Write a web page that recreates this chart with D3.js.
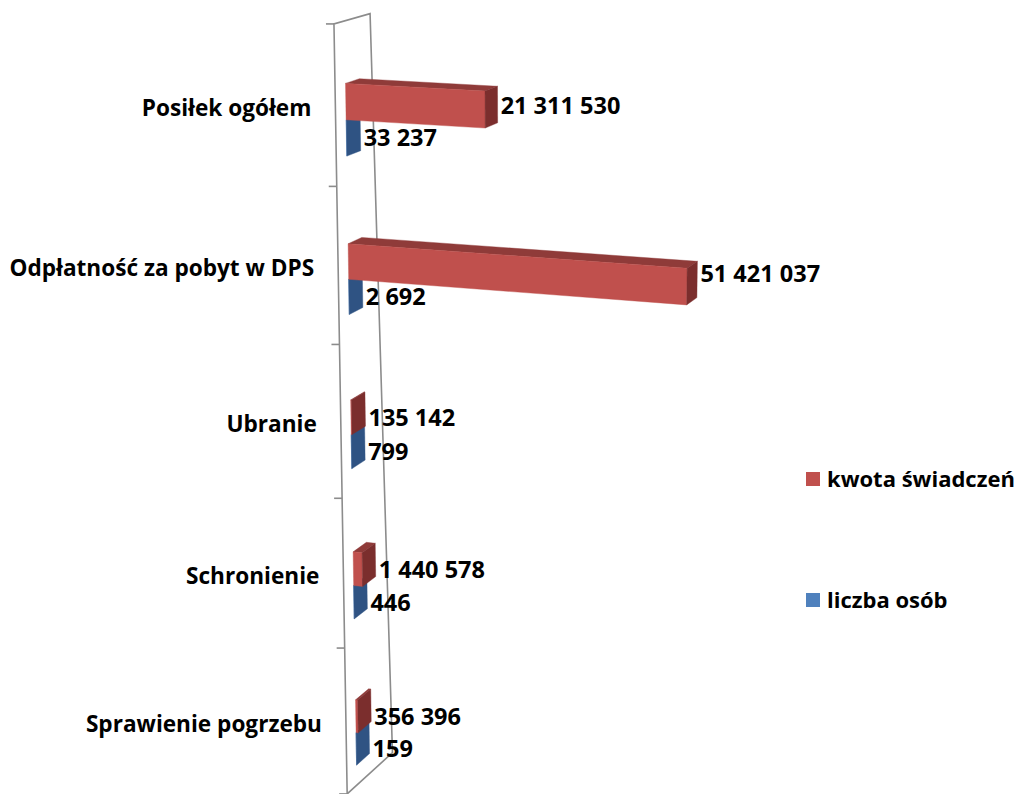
<!DOCTYPE html>
<html><head><meta charset="utf-8">
<script src="https://cdn.jsdelivr.net/npm/d3@7"></script>
<style>body{margin:0;background:#fff} text{font-family:'Open Sans',sans-serif;font-weight:700;fill:#000}</style>
</head><body><svg id="c" width="1019" height="794"></svg>
<script>
// ---- data ----
const categories = ["Posiłek ogółem","Odpłatność za pobyt w DPS","Ubranie","Schronienie","Sprawienie pogrzebu"];
const seriesNames = ["kwota świadczeń","liczba osób"];
const kwota = [21311530, 51421037, 135142, 1440578, 356396];
const liczba = [33237, 2692, 799, 446, 159];

// ---- 3D view: perspective projection matrix (world -> screen) ----
const PM = [
  [6.246675, 7.456009, 18.03956, 344.5296],
  [0.2996798, 164.6265, -3.789619, 22.89198],
  [-0.0006865474, 0.01388841, 0.01139985, 1.0]
];
function proj(X,Y,Z){
  const w=PM[2][0]*X+PM[2][1]*Y+PM[2][2]*Z+PM[2][3];
  return [(PM[0][0]*X+PM[0][1]*Y+PM[0][2]*Z+PM[0][3])/w,(PM[1][0]*X+PM[1][1]*Y+PM[1][2]*Z+PM[1][3])/w];
}

const svg=d3.select("#c");
const fmt=d3.formatLocale({decimal:",",thousands:" ",grouping:[3],currency:["","zł"]}).format(",d");
const xW=d3.scaleLinear().domain([0,1e6]).range([0,1]);
const yBand=d3.scaleBand().domain(categories).range([0.095,5.095]).paddingInner(0.55).paddingOuter(0.275);
const ySub=d3.scaleBand().domain(seriesNames).range([0,yBand.bandwidth()]);
const colors={
  "kwota świadczeń":{front:"#C0504D",top:"#8F3B39",end:"#7B2E2D"},
  "liczba osób":{front:"#4F81BD",top:"#3A5F8E",end:"#2F5383"}};

// category wall (value = 0 plane)
const wallY=d3.scaleBand().domain(categories).range([-0.012,4.958]);
const wallZfront=-0.74, wallZbackTop=1.85, wallZbackBottom=2.8;
const y0w=wallY.range()[0], y1w=wallY.range()[1];
const line=d3.line();
const wall=svg.append("g").attr("fill","none").attr("stroke","#8C8C8C").attr("stroke-width",1.6);
wall.append("path").attr("d",line([proj(0,y0w,wallZfront),proj(0,y1w,wallZfront),proj(0,y1w,wallZbackBottom),proj(0,y0w,wallZbackTop)])+"Z");
const tickYs=categories.map(c=>wallY(c)).concat([y1w]);
tickYs.forEach(Y=>{const p=proj(0,Y,wallZfront);
  wall.append("path").attr("d",line([[p[0]-8,p[1]],p]));});

// bars
const data=categories.map((c,i)=>({c,vals:[{s:seriesNames[1],v:liczba[i]},{s:seriesNames[0],v:kwota[i]}]}));
const g=svg.append("g");
data.forEach(d=>{
  d.vals.forEach(o=>{
    const y0=yBand(d.c)+ySub(o.s),y1=y0+ySub.bandwidth(),v=xW(o.v),col=colors[o.s];
    const faces=[
      {f:[[0,y0,0],[v,y0,0],[v,y0,1],[0,y0,1]],c:col.top},
      {f:[[0,y0,0],[v,y0,0],[v,y1,0],[0,y1,0]],c:col.front},
      {f:[[v,y0,0],[v,y0,1],[v,y1,1],[v,y1,0]],c:col.end}];
    faces.forEach(fc=>g.append("path").attr("d",line(fc.f.map(p=>proj(...p)))+"Z")
      .attr("fill",fc.c).attr("stroke",fc.c).attr("stroke-width",0.4));
  });
});

// value labels
data.forEach(d=>{d.vals.forEach(o=>{
  const y0=yBand(d.c)+ySub(o.s),y1=y0+ySub.bandwidth(),ym=(y0+y1)/2,v=xW(o.v);
  const xEnd=d3.max([proj(v,y0,1),proj(v,y1,1),proj(v,y0,0),proj(v,y1,0)],p=>p[0]);
  const yc=proj(v/2,ym,0)[1];
  svg.append("text").attr("x",xEnd+3).attr("y",yc).attr("dy","0.36em").style("font-size","23.5px").text(fmt(o.v));
});});

// category labels
categories.forEach(c=>{const Y=wallY(c)+wallY.bandwidth()/2;const p=proj(0,Y,wallZfront);
  svg.append("text").attr("x",p[0]-24).attr("y",p[1]+2).attr("dy","0.36em").attr("text-anchor","end").style("font-size","22.6px").text(c);});

// legend
const leg=svg.append("g");
seriesNames.forEach((s,i)=>{const y=479+i*121;
  leg.append("rect").attr("x",806).attr("y",y-7).attr("width",14).attr("height",14).attr("fill",colors[s].front);
  leg.append("text").attr("x",827).attr("y",y).attr("dy","0.36em").style("font-size","22px").text(s);});
</script></body></html>
